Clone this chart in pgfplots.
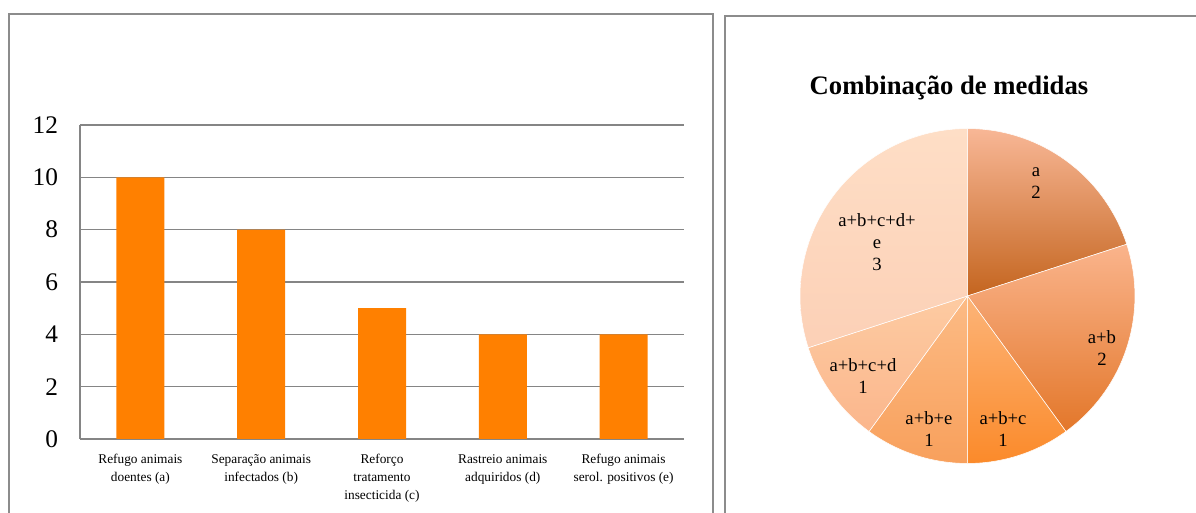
\documentclass[border=0pt]{standalone}
\usepackage{pgfplots}
\pgfplotsset{compat=1.18}
\usepackage{fontspec}
\setmainfont{Liberation Serif}

\definecolor{bar}{HTML}{FF8000}
\definecolor{gridc}{HTML}{858585}
\definecolor{framec}{HTML}{8C8C8C}

\definecolor{aT}{HTML}{F8B796}\definecolor{aB}{HTML}{C4651F}
\definecolor{abT}{HTML}{FAB48C}\definecolor{abB}{HTML}{E3772A}
\definecolor{abcT}{HTML}{FCB478}\definecolor{abcB}{HTML}{FB8A2A}
\definecolor{abeT}{HTML}{FCBB85}\definecolor{abeB}{HTML}{F8A05C}
\definecolor{abcdT}{HTML}{FDCBA2}\definecolor{abcdB}{HTML}{FBB68C}
\definecolor{allT}{HTML}{FEDEC6}\definecolor{allB}{HTML}{FCD0B6}

% pie slice from cumulative value #1 to #2 (total 10)
\newcommand{\slice}[4]{%
  \addplot[draw=white, line width=0.4pt, top color=#3, bottom color=#4,
    domain={90-36*#2}:{90-36*#1}, samples=80]
    ({cos(x)},{sin(x)}) -- (0,0) -- cycle;
}

\begin{document}
\begin{tikzpicture}
\useasboundingbox (0,0) rectangle (897pt,384.75pt);
\draw[framec, line width=1.5pt] (6.4pt,-20pt) -- (6.4pt,373.9pt) -- (534.4pt,373.9pt) -- (534.4pt,-20pt);
\draw[framec, line width=1.5pt] (543.4pt,-20pt) -- (543.4pt,372.75pt) -- (910pt,372.75pt);

\begin{axis}[
  at={(60pt,55.5pt)}, anchor=south west,
  scale only axis, width=453pt, height=235.5pt,
  xmin=-0.5, xmax=4.5, ymin=0, ymax=12,
  ytick={0,2,...,12},
  xtick={0,1,2,3,4},
  xticklabels={{Refugo animais\\doentes (a)},{Separação animais\\infectados (b)},{Reforço\\tratamento\\insecticida (c)},{Rastreio animais\\adquiridos (d)},{Refugo animais\\serol. positivos (e)}},
  xticklabel style={align=center, font=\fontsize{10}{13.5}\selectfont, yshift=-8pt},
  yticklabel style={font=\fontsize{19}{19}\selectfont, xshift=-13pt},
  /pgf/number format/assume math mode=true,
  major tick length=0pt,
  ymajorgrids, grid style={gridc, line width=1.1pt},
  axis line style={gridc, line width=1.1pt},
  axis x line*=bottom, axis y line*=left,
  ybar, bar width=36pt,
]
\addplot[fill=bar, draw=none] coordinates {(0,10) (1,8) (2,5) (3,4) (4,4)};
\end{axis}

\node[font=\bfseries\fontsize{20}{20}\selectfont] at (711.75pt,318.75pt) {Combinação de medidas};

\begin{axis}[
  at={(725.6pt,162.75pt)}, anchor=center,
  scale only axis, width=251.2pt, height=251.2pt,
  xmin=-1, xmax=1, ymin=-1, ymax=1,
  hide axis, clip=false,
]
% values: a=2, a+b=2, a+b+c=1, a+b+e=1, a+b+c+d=1, a+b+c+d+e=3
\slice{0}{2}{aT}{aB}
\slice{2}{4}{abT}{abB}
\slice{4}{5}{abcT}{abcB}
\slice{5}{6}{abeT}{abeB}
\slice{6}{7}{abcdT}{abcdB}
\slice{7}{10}{allT}{allB}
\begin{scope}[every node/.style={align=center, font=\fontsize{14}{16.5}\selectfont}]
\node at (axis cs:0.409,0.675) {a\\2};
\node at (axis cs:0.803,-0.310) {a+b\\2};
\node at (axis cs:0.212,-0.794) {a+b+c\\1};
\node at (axis cs:-0.230,-0.794) {a+b+e\\1};
\node at (axis cs:-0.624,-0.478) {a+b+c+d\\1};
\node at (axis cs:-0.540,0.322) {a+b+c+d+\\e\\3};
\end{scope}
\end{axis}
\end{tikzpicture}
\end{document}
